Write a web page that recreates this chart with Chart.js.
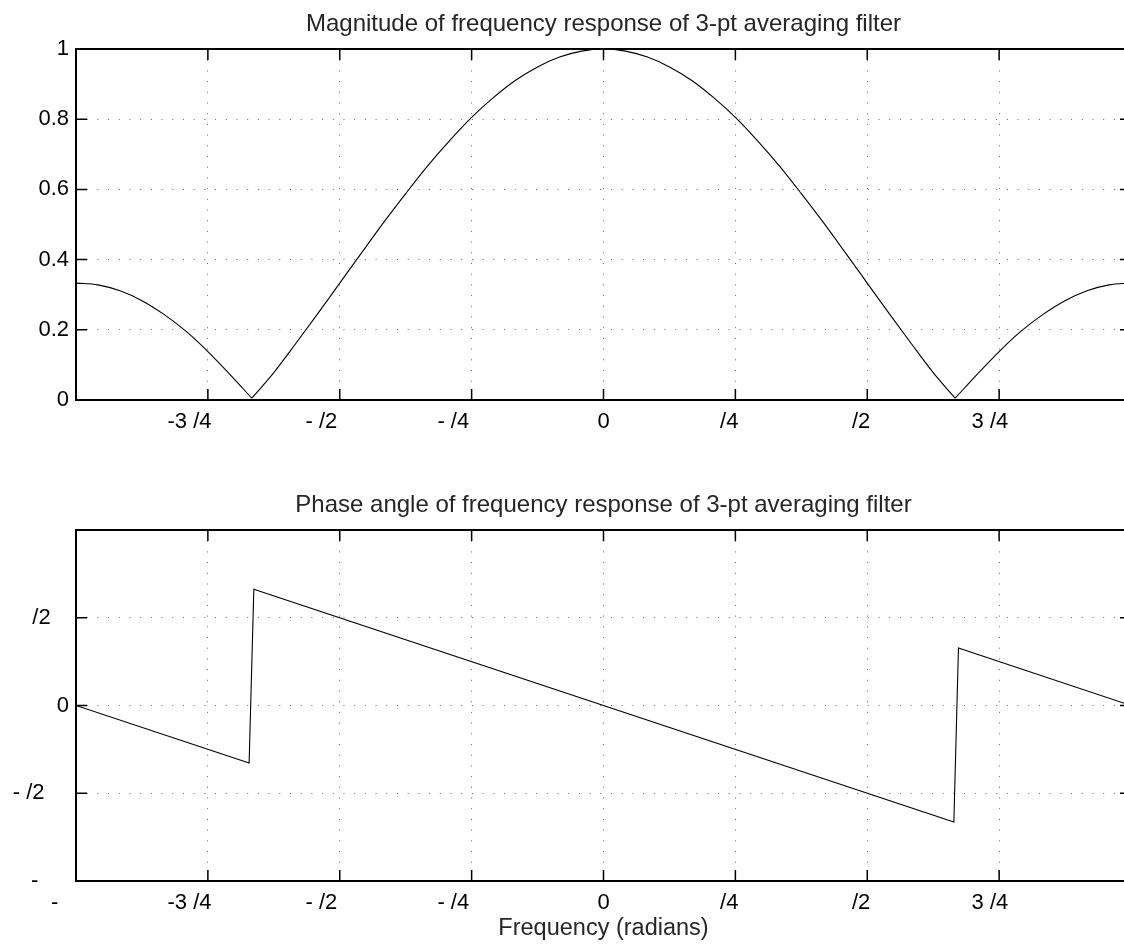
<!DOCTYPE html>
<html>
<head>
<meta charset="utf-8">
<script src="https://cdn.jsdelivr.net/npm/chart.js@4.4.1/dist/chart.umd.min.js"></script>
<style>
  html, body { margin: 0; padding: 0; background: #fff; overflow: hidden; }
  #wrap { position: relative; width: 1124px; height: 945px; overflow: hidden; background: #fff; }
  canvas { position: absolute; left: 0; }
  #magChart { top: 0; }
  #phaseChart { top: 465px; }
</style>
</head>
<body>
<div id="wrap">
  <canvas id="magChart" width="1140" height="460"></canvas>
  <canvas id="phaseChart" width="1140" height="480"></canvas>
</div>
<script>
// frequency samples (radians) and magnitude
const magFreq = [-3.1416, -3.0107, -2.8798, -2.7489, -2.6180, -2.4871, -2.3562, -2.2253, -2.0944,
  -1.9635, -1.8326, -1.7017, -1.5708, -1.4399, -1.3090, -1.1781, -1.0472, -0.9163, -0.7854,
  -0.6545, -0.5236, -0.3927, -0.2618, -0.1309, 0, 0.1309, 0.2618, 0.3927, 0.5236, 0.6545,
  0.7854, 0.9163, 1.0472, 1.1781, 1.3090, 1.4399, 1.5708, 1.7017, 1.8326, 1.9635, 2.0944,
  2.2253, 2.3562, 2.4871, 2.6180, 2.7489, 2.8798, 3.0107, 3.1416];
const magValues = [0.333, 0.328, 0.311, 0.283, 0.244, 0.196, 0.138, 0.073, 0.005,
  0.078, 0.161, 0.246, 0.333, 0.420, 0.506, 0.588, 0.667, 0.739, 0.805,
  0.862, 0.911, 0.949, 0.977, 0.994, 1.000, 0.994, 0.977, 0.949, 0.911, 0.862,
  0.805, 0.739, 0.667, 0.588, 0.506, 0.420, 0.333, 0.246, 0.161, 0.078, 0.005,
  0.073, 0.138, 0.196, 0.244, 0.283, 0.311, 0.328, 0.333];
// indices of the two zeros, where the curve has a sharp corner
const magCorners = [8, 40];

// phase angle (radians) corners
const phaseFreq = [-3.1416, -2.1105, -2.0825, 2.0866, 2.1140, 3.1416];
const phaseValues = [0, -1.031, 2.083, -2.087, 1.028, 0];

// ticks (the pi glyph is missing in the original, labels kept as shown)
const freqTicks = [-3.1416, -2.3562, -1.5708, -0.7854, 0, 0.7854, 1.5708, 2.3562, 3.1416];
const magFreqLabels = ['', '-3 /4      ', '- /2      ', '- /4      ', '0', '/4  ', '/2  ', '3 /4   ', ''];
const phaseFreqLabels = ['-       ', '-3 /4      ', '- /2      ', '- /4      ', '0', '/4  ', '/2  ', '3 /4   ', ''];
const magTicks = [0, 0.2, 0.4, 0.6, 0.8, 1];
const magTickLabels = ['0', '0.2', '0.4', '0.6', '0.8', '1'];
const phaseTicks = [-3.1416, -1.5708, 0, 1.5708, 3.1416];
const phaseTickLabels = ['-     ', '- /2    ', '0', '/2   ', ''];

const FONT = "'Liberation Sans', Arial, Helvetica, sans-serif";

const framePlugin = {
  id: 'frame',
  afterDraw(chart) {
    const ctx = chart.ctx;
    const a = chart.chartArea;
    const xs = chart.scales.x;
    const ys = chart.scales.y;
    ctx.save();
    ctx.strokeStyle = '#000';
    ctx.lineWidth = 1.5;
    ctx.beginPath();
    for (const t of xs.ticks) {
      const px = xs.getPixelForValue(t.value);
      ctx.moveTo(px, a.bottom); ctx.lineTo(px, a.bottom - 11);
      ctx.moveTo(px, a.top); ctx.lineTo(px, a.top + 11);
    }
    for (const t of ys.ticks) {
      const py = ys.getPixelForValue(t.value);
      ctx.moveTo(a.left, py); ctx.lineTo(a.left + 11, py);
      ctx.moveTo(a.right, py); ctx.lineTo(a.right - 11, py);
    }
    ctx.stroke();
    ctx.lineWidth = 2;
    ctx.strokeRect(a.left, a.top, a.right - a.left, a.bottom - a.top);
    ctx.restore();
  }
};

// split a series into pieces at the given indices (the corner point is shared)
function pieces(xs, ys, cuts) {
  const bounds = [0].concat(cuts, [xs.length - 1]);
  const out = [];
  for (let k = 0; k < bounds.length - 1; k++) {
    const pts = [];
    for (let i = bounds[k]; i <= bounds[k + 1]; i++) {
      pts.push({x: xs[i], y: ys[i]});
    }
    out.push(pts);
  }
  return out;
}

function makePlot(id, p) {
  const datasets = pieces(p.xs, p.ys, p.cuts).map(pts => ({
    data: pts,
    borderColor: '#000',
    borderWidth: 1.1,
    pointRadius: 0,
    cubicInterpolationMode: p.smooth ? 'monotone' : 'default',
    tension: 0,
    fill: false
  }));
  const config = {
    type: 'line',
    data: {datasets: datasets},
    plugins: [framePlugin],
    options: {
      responsive: false,
      animation: false,
      devicePixelRatio: 1,
      layout: {padding: {left: 0, right: 8, top: 0, bottom: 0}},
      plugins: {
        legend: {display: false},
        tooltip: {enabled: false},
        title: {
          display: true,
          fullSize: false,
          text: p.title,
          color: '#262626',
          font: {family: FONT, size: 24, weight: 'normal'},
          padding: p.titlePad
        }
      },
      scales: {
        x: {
          type: 'linear',
          min: freqTicks[0],
          max: freqTicks[freqTicks.length - 1],
          afterBuildTicks: (s) => { s.ticks = freqTicks.map(v => ({value: v})); },
          afterFit: (s) => { s.height = p.xHeight; },
          ticks: {
            autoSkip: false,
            maxRotation: 0,
            padding: 9,
            color: '#000',
            font: {family: FONT, size: 22},
            callback: (v, i) => p.xLabels[i]
          },
          grid: {color: '#666', lineWidth: 1, drawTicks: false},
          border: {display: false, dash: [1, 9.7]},
          title: {
            display: !!p.xTitle,
            text: p.xTitle || '',
            color: '#262626',
            font: {family: FONT, size: 23.5},
            padding: {top: 2, bottom: 2}
          }
        },
        y: {
          type: 'linear',
          min: p.yTicks[0],
          max: p.yTicks[p.yTicks.length - 1],
          afterBuildTicks: (s) => { s.ticks = p.yTicks.map(v => ({value: v})); },
          afterFit: (s) => { s.width = 76; },
          ticks: {
            autoSkip: false,
            padding: 7,
            color: '#000',
            font: {family: FONT, size: 22},
            callback: (v, i) => p.yLabels[i]
          },
          grid: {color: '#666', lineWidth: 1, drawTicks: false},
          border: {display: false, dash: [1, 9.7]}
        }
      }
    }
  };
  return new Chart(document.getElementById(id).getContext('2d'), config);
}

makePlot('magChart', {
  xs: magFreq,
  ys: magValues,
  cuts: magCorners,
  smooth: true,
  title: 'Magnitude of frequency response of 3-pt averaging filter',
  titlePad: {top: 9.5, bottom: 10.7},
  xHeight: 60,
  xLabels: magFreqLabels,
  yTicks: magTicks,
  yLabels: magTickLabels
});

makePlot('phaseChart', {
  xs: phaseFreq,
  ys: phaseValues,
  cuts: [],
  smooth: false,
  title: 'Phase angle of frequency response of 3-pt averaging filter',
  titlePad: {top: 25.6, bottom: 10.6},
  xHeight: 64,
  xLabels: phaseFreqLabels,
  xTitle: 'Frequency (radians)',
  yTicks: phaseTicks,
  yLabels: phaseTickLabels
});
</script>
</body>
</html>
